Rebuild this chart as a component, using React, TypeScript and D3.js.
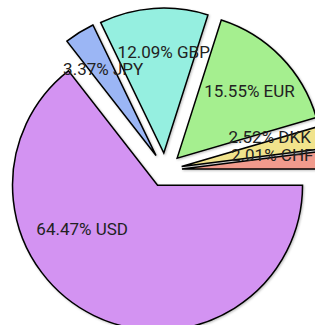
import * as d3 from 'd3'

const currencies = ['USD', 'JPY', 'GBP', 'EUR', 'DKK', 'CHF']
const shares = [64.47, 3.37, 12.09, 15.55, 2.52, 2.01]
const colors = ['#d393f2', '#9bb6f5', '#95efe0', '#a5ef8f', '#f1e38c', '#f19b8d']

const W = 315
const H = 325
const cx = 165
const cy = 170
const radius = 145
const explode = 17

// label placement tweaks (degrees, fraction of radius from slice tip)
const labelTweak: Record<string, [number, number]> = {
  USD: [34, 0.6],
  JPY: [0.5, 0.7],
  GBP: [4, 0.7],
  EUR: [1.5, 0.68],
  DKK: [-6.7, 0.64],
  CHF: [-5.2, 0.63],
}

export default function App() {
  const data = currencies.map((c, i) => ({ name: c, value: shares[i], color: colors[i] }))
  const pie = d3
    .pie<{ name: string; value: number; color: string }>()
    .sort(null)
    .value((d) => d.value)
    .startAngle(Math.PI / 2)
    .endAngle(Math.PI / 2 + 2 * Math.PI)
  const arcs = pie(data)
  const arc = d3
    .arc<d3.PieArcDatum<{ name: string; value: number; color: string }>>()
    .innerRadius(0)
    .outerRadius(radius)

  return (
    <svg
      width={W}
      height={H}
      style={{ position: 'absolute', left: 0, top: 0, background: '#fff' }}
    >
      <defs>
        <filter id="sh" x="-20%" y="-20%" width="140%" height="140%">
          <feDropShadow dx="1" dy="1" stdDeviation="1" floodColor="#000" floodOpacity="0.25" />
        </filter>
      </defs>
      {arcs.map((a) => {
        const mid = (a.startAngle + a.endAngle) / 2
        const ox = Math.sin(mid) * explode
        const oy = -Math.cos(mid) * explode
        return (
          <path
            key={a.data.name}
            d={arc(a) || ''}
            transform={`translate(${cx + ox},${cy + oy})`}
            fill={a.data.color}
            stroke="#000"
            strokeWidth={1.5}
            strokeLinejoin="miter"
            filter="url(#sh)"
          />
        )
      })}
      {arcs.map((a) => {
        const mid = (a.startAngle + a.endAngle) / 2
        const tx = cx + Math.sin(mid) * explode
        const ty = cy - Math.cos(mid) * explode
        const [dAng, f] = labelTweak[a.data.name]
        const ang = mid + (dAng * Math.PI) / 180
        const lx = tx + Math.sin(ang) * radius * f
        const ly = ty - Math.cos(ang) * radius * f
        return (
          <text
            key={a.data.name}
            x={lx}
            y={ly + 6}
            textAnchor="middle"
            fontFamily="Roboto"
            fontSize={17}
            fill="#222"
          >
            {`${a.data.value.toFixed(2)}% ${a.data.name}`}
          </text>
        )
      })}
    </svg>
  )
}
